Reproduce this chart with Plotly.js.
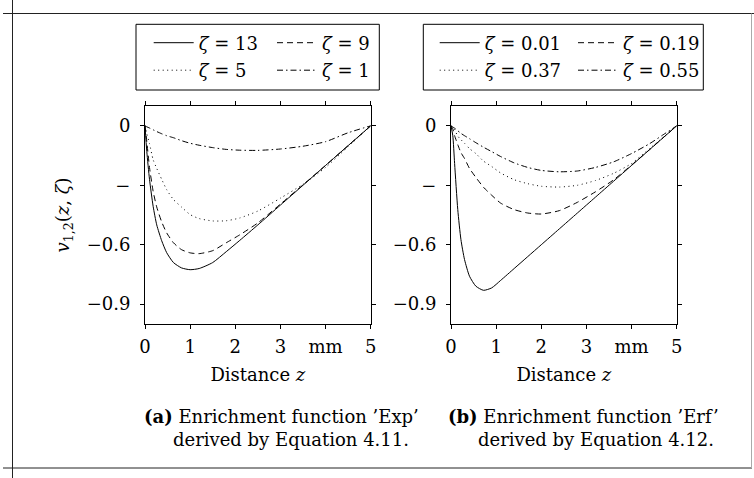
<!DOCTYPE html>
<html>
<head>
<meta charset="utf-8">
<script src="https://cdn.plot.ly/plotly-3.0.1.min.js"></script>
<style>
html,body{margin:0;padding:0;background:#ffffff;}
#chart{width:754px;height:478px;}
</style>
</head>
<body>
<div id="chart"></div>
<script>
// ---------- data ----------
// Panel (a): Enrichment function 'Exp'
const zExp = [0, 0.04, 0.1, 0.18, 0.26, 0.37, 0.48, 0.63, 0.81, 1.0, 1.2, 1.5, 1.8, 2.1, 2.5, 3.0, 3.5, 4.0, 4.5, 5.0];
const vExp13 = [0, -0.13, -0.27, -0.406, -0.50, -0.58, -0.64, -0.69, -0.717, -0.726, -0.72, -0.69, -0.635, -0.578, -0.50, -0.40, -0.30, -0.20, -0.10, 0];
const vExp9  = [0, -0.08, -0.21, -0.33, -0.41, -0.485, -0.54, -0.59, -0.625, -0.641, -0.645, -0.63, -0.59, -0.55, -0.49, -0.395, -0.298, -0.20, -0.10, 0];
const vExp5  = [0, -0.04, -0.09, -0.171, -0.215, -0.27, -0.322, -0.372, -0.41, -0.448, -0.468, -0.48, -0.479, -0.465, -0.43, -0.365, -0.295, -0.21, -0.105, 0];
const vExp1  = [0, -0.005, -0.011, -0.02, -0.029, -0.04, -0.05, -0.06, -0.075, -0.088, -0.098, -0.11, -0.119, -0.123, -0.124, -0.117, -0.103, -0.08, -0.035, 0];

// Panel (b): Enrichment function 'Erf'
const zErf = [0, 0.04, 0.08, 0.15, 0.22, 0.3, 0.41, 0.55, 0.72, 0.9, 1.1, 1.4, 1.7, 2.0, 2.4, 2.8, 3.2, 3.6, 4.0, 4.4, 4.7, 5.0];
const vErf001 = [0, -0.05, -0.19, -0.423, -0.574, -0.675, -0.759, -0.809, -0.83, -0.818, -0.78, -0.72, -0.66, -0.60, -0.52, -0.44, -0.36, -0.28, -0.20, -0.12, -0.06, 0];
const vErf019 = [0, -0.015, -0.05, -0.095, -0.135, -0.165, -0.215, -0.26, -0.31, -0.35, -0.39, -0.423, -0.44, -0.445, -0.428, -0.386, -0.333, -0.273, -0.198, -0.12, -0.06, 0];
const vErf037 = [0, -0.01, -0.02, -0.052, -0.07, -0.088, -0.115, -0.14, -0.178, -0.205, -0.238, -0.272, -0.292, -0.305, -0.309, -0.30, -0.276, -0.24, -0.19, -0.115, -0.058, 0];
const vErf055 = [0, -0.006, -0.012, -0.025, -0.038, -0.05, -0.065, -0.085, -0.108, -0.13, -0.155, -0.187, -0.21, -0.225, -0.232, -0.228, -0.21, -0.182, -0.14, -0.09, -0.045, 0];

const namesExp = ['<i>ζ</i> = 13', '<i>ζ</i> = 9', '<i>ζ</i> = 5', '<i>ζ</i> = 1'];
const namesErf = ['<i>ζ</i> = 0.01', '<i>ζ</i> = 0.19', '<i>ζ</i> = 0.37', '<i>ζ</i> = 0.55'];

const xTickVals = [0, 1, 2, 3, 4, 5];
const xTickText = ['0', '1', '2', '3', 'mm', '5'];
const yTickVals = [0, -0.3, -0.6, -0.9];
const yTickText = ['0', '−', '−0.6', '−0.9'];

const xTitle = 'Distance <i>z</i>';
const yTitle = '<i>v</i><sub>1,2</sub>(<i>z</i>, <i>ζ</i>)';
const captionA = ['<b>(a)</b> Enrichment function ’Exp’', 'derived by Equation 4.11.'];
const captionB = ['<b>(b)</b> Enrichment function ’Erf’', 'derived by Equation 4.12.'];

// ---------- styling ----------
const W = 754, H = 478;
const px = v => v / W;
const py = v => 1 - v / H;
const FONT = 'DejaVu Serif';
const fontBase = {family: FONT, size: 18, color: '#000000'};

const dashes = {
  solid: 'solid',
  dashed: '6px,4px',
  dotted: '1px,3.5px',
  dashdot: '6px,3px,1.5px,3px'
};

function mk(x, y, name, dash, xa, ya, legend) {
  return {
    type: 'scatter', mode: 'lines', x: x, y: y, name: name,
    xaxis: xa, yaxis: ya, legend: legend,
    line: {color: '#000000', width: 1, dash: dash, shape: 'spline', smoothing: 0.6},
    hoverinfo: 'skip'
  };
}

const traces = [
  mk(zExp, vExp13, namesExp[0], dashes.solid, 'x', 'y', 'legend'),
  mk(zExp, vExp5, namesExp[2], dashes.dotted, 'x', 'y', 'legend2'),
  mk(zExp, vExp9, namesExp[1], dashes.dashed, 'x', 'y', 'legend3'),
  mk(zExp, vExp1, namesExp[3], dashes.dashdot, 'x', 'y', 'legend4'),
  mk(zErf, vErf001, namesErf[0], dashes.solid, 'x2', 'y2', 'legend5'),
  mk(zErf, vErf037, namesErf[2], dashes.dotted, 'x2', 'y2', 'legend6'),
  mk(zErf, vErf019, namesErf[1], dashes.dashed, 'x2', 'y2', 'legend7'),
  mk(zErf, vErf055, namesErf[3], dashes.dashdot, 'x2', 'y2', 'legend8')
];

const domA = [px(145), px(370.7)];
const domB = [px(451), px(676.7)];
const domY = [py(324), py(106)];

function xAxisMain(domain, anchor) {
  return {
    domain: domain, anchor: anchor, range: [0, 5], fixedrange: true,
    showline: true, linecolor: '#000', linewidth: 1, mirror: 'ticks',
    ticks: 'outside', ticklen: 4, tickwidth: 1, tickcolor: '#000',
    tickvals: xTickVals, ticktext: xTickText, ticklabelstandoff: 2,
    tickfont: fontBase, showgrid: false, zeroline: false,
    title: {text: xTitle, font: fontBase, standoff: 12}
  };
}
function yAxisMain(domain, anchor, withTitle) {
  const a = {
    domain: domain, anchor: anchor, range: [-1.0, 0.1], fixedrange: true,
    showline: true, linecolor: '#000', linewidth: 1, mirror: 'ticks',
    ticks: 'outside', ticklen: 4, tickwidth: 1, tickcolor: '#000',
    tickvals: yTickVals, ticktext: yTickText, ticklabelstandoff: 6,
    tickfont: fontBase, showgrid: false, zeroline: false
  };
  if (withTitle) a.title = {text: yTitle, font: fontBase, standoff: 12};
  return a;
}
function xAxisOverlay(domain, over, anchor) {
  return {
    domain: domain, overlaying: over, anchor: anchor, range: [0, 5], fixedrange: true,
    showline: false, mirror: 'ticks', ticks: 'inside', ticklen: 4, tickwidth: 1, tickcolor: '#000',
    tickvals: xTickVals, showticklabels: false, showgrid: false, zeroline: false
  };
}
function yAxisOverlay(domain, over, anchor) {
  return {
    domain: domain, overlaying: over, anchor: anchor, range: [-1.0, 0.1], fixedrange: true,
    showline: false, mirror: 'ticks', ticks: 'inside', ticklen: 4, tickwidth: 1, tickcolor: '#000',
    tickvals: yTickVals, showticklabels: false, showgrid: false, zeroline: false
  };
}

function leg(xpx, ypx) {
  return {
    x: px(xpx), y: py(ypx), xanchor: 'left', yanchor: 'top',
    orientation: 'v', bgcolor: 'rgba(0,0,0,0)', borderwidth: 0,
    font: fontBase, itemwidth: 40, itemclick: false, itemdoubleclick: false
  };
}

const rowTop1 = 24.5, rowTop2 = 52.0;

const layout = {
  width: W, height: H,
  margin: {l: 0, r: 0, t: 0, b: 0, pad: 0},
  paper_bgcolor: '#ffffff', plot_bgcolor: 'rgba(0,0,0,0)',
  font: fontBase,
  showlegend: true,
  xaxis: xAxisMain(domA, 'y'),
  yaxis: yAxisMain(domY, 'x', true),
  xaxis2: xAxisMain(domB, 'y2'),
  yaxis2: yAxisMain(domY, 'x2', false),
  xaxis3: xAxisOverlay(domA, 'x', 'y'),
  yaxis3: yAxisOverlay(domY, 'y', 'x'),
  xaxis4: xAxisOverlay(domB, 'x2', 'y2'),
  yaxis4: yAxisOverlay(domY, 'y2', 'x2'),
  legend: leg(148.7, rowTop1),
  legend2: leg(148.7, rowTop2),
  legend3: leg(272, rowTop1),
  legend4: leg(272, rowTop2),
  legend5: leg(434.7, rowTop1),
  legend6: leg(434.7, rowTop2),
  legend7: leg(573, rowTop1),
  legend8: leg(573, rowTop2),
  shapes: [
    // legend frames
    {type: 'rect', xref: 'paper', yref: 'paper', x0: px(136), x1: px(379.3), y0: py(90), y1: py(24.3), line: {color: '#000', width: 1}},
    {type: 'rect', xref: 'paper', yref: 'paper', x0: px(423.3), x1: px(703.3), y0: py(90), y1: py(24.3), line: {color: '#000', width: 1}},
    // page frame lines
    {type: 'line', xref: 'paper', yref: 'paper', x0: px(3), x1: px(754), y0: py(13.5), y1: py(13.5), line: {color: '#222', width: 1}},
    {type: 'line', xref: 'paper', yref: 'paper', x0: px(12.5), x1: px(12.5), y0: py(0), y1: py(478), line: {color: '#222', width: 1}},
    {type: 'line', xref: 'paper', yref: 'paper', x0: px(3), x1: px(752), y0: py(468), y1: py(468), line: {color: '#222', width: 1}},
    {type: 'line', xref: 'paper', yref: 'paper', x0: px(751.5), x1: px(751.5), y0: py(13.5), y1: py(468), line: {color: '#aaaaaa', width: 1}}
  ],
  annotations: [
    {xref: 'paper', yref: 'paper', x: px(141.7), y: py(416), xanchor: 'left', yanchor: 'middle', showarrow: false, text: captionA[0], font: fontBase},
    {xref: 'paper', yref: 'paper', x: px(170.7), y: py(439), xanchor: 'left', yanchor: 'middle', showarrow: false, text: captionA[1], font: fontBase},
    {xref: 'paper', yref: 'paper', x: px(446), y: py(416), xanchor: 'left', yanchor: 'middle', showarrow: false, text: captionB[0], font: fontBase},
    {xref: 'paper', yref: 'paper', x: px(476), y: py(439), xanchor: 'left', yanchor: 'middle', showarrow: false, text: captionB[1], font: fontBase}
  ]
};

Plotly.newPlot('chart', traces, layout, {staticPlot: true, displayModeBar: false});
</script>
</body>
</html>
